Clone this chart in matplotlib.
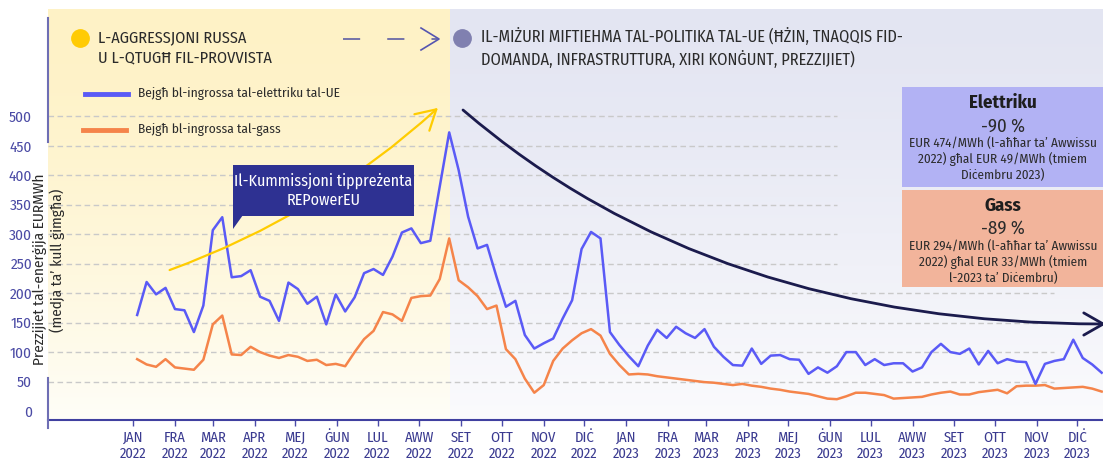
import matplotlib

matplotlib.use("Agg")
import matplotlib.pyplot as plt
import numpy as np
import pandas as pd
from matplotlib.lines import Line2D
from matplotlib.patches import Rectangle, Polygon, FancyArrowPatch
from matplotlib.path import Path

plt.rcParams["font.family"] = ["Fira Sans Condensed", "DejaVu Sans"]

W, H = 1103, 459

# weekly wholesale prices, EUR/MWh
ELEC = [163, 219, 198, 209, 173, 171, 134, 179, 307, 329, 227, 229, 239, 194, 187, 153,
        218, 207, 182, 194, 147, 198, 169, 193, 234, 241, 231, 262, 303, 310, 285, 289,
        381, 473, 409, 330, 276, 282, 228, 177, 187, 129, 106, 115, 123, 157, 188, 275,
        304, 293, 134, 112, 93, 76, 111, 138, 124, 143, 132, 124, 139, 109, 92, 78,
        77, 106, 80, 94, 95, 88, 87, 63, 74, 65, 76, 100, 100, 78, 88, 78,
        81, 81, 67, 74, 100, 114, 100, 97, 106, 79, 102, 81, 88, 84, 83, 46,
        80, 85, 88, 121, 90, 79, 65]
GAS = [88, 79, 75, 88, 74, 72, 70, 87, 147, 162, 96, 95, 109, 100, 94, 90,
       95, 92, 85, 87, 78, 80, 76, 100, 122, 136, 168, 164, 153, 192, 195, 196,
       224, 293, 222, 210, 195, 173, 179, 105, 88, 55, 31, 44, 85, 106, 120, 132,
       139, 128, 97, 78, 62, 63, 62, 59, 57, 55, 53, 51, 49, 48, 46, 44,
       46, 43, 41, 38, 36, 33, 31, 29, 25, 21, 20, 25, 31, 31, 29, 27,
       21, 22, 23, 24, 28, 31, 33, 28, 28, 32, 34, 36, 30, 42, 43, 43,
       44, 38, 39, 40, 41, 38, 33]
WEEKS = pd.date_range("2022-01-04", periods=len(ELEC), freq="7D")

MONTHS = ["JAN", "FRA", "MAR", "APR", "MEJ", "ĠUN", "LUL", "AWW", "SET", "OTT", "NOV", "DIĊ"]
YTICKS = [0, 50, 100, 150, 200, 250, 300, 350, 400, 450, 500]

LEG_ELEC = "Bejgħ bl-ingrossa tal-elettriku tal-UE"
LEG_GAS = "Bejgħ bl-ingrossa tal-gass"
PHASE1 = "L-AGGRESSJONI RUSSA\nU L-QTUGĦ FIL-PROVVISTA"
PHASE2 = "IL-MIŻURI MIFTIEHMA TAL-POLITIKA TAL-UE (ĦŻIN, TNAQQIS FID-\nDOMANDA, INFRASTRUTTURA, XIRI KONĠUNT, PREZZIJIET)"
CALLOUT = "Il-Kummissjoni tippreżenta\nREPowerEU"
BOX_E = ("Elettriku", "-90 %", "EUR 474/MWh (l-aħħar ta’ Awwissu\n2022) għal EUR 49/MWh (tmiem\nDiċembru 2023)")
BOX_G = ("Gass", "-89 %", "EUR 294/MWh (l-aħħar ta’ Awwissu\n2022) għal EUR 33/MWh (tmiem\nl-2023 ta’ Diċembru)")

BLUE, ORANGE = "#5A5AF6", "#F5844A"
TXT = "#2B2B2B"


def fx(x):
    return x / W


def fy(y):
    return 1 - y / H


def gradient(top, bottom, power=1.0, n=256):
    t = np.linspace(0, 1, n)[:, None, None] ** power
    top = np.array(top)[None, None, :] / 255
    bottom = np.array(bottom)[None, None, :] / 255
    return top * (1 - t) + bottom * t


fig = plt.figure(figsize=(W / 100, H / 100), dpi=100)
ax = fig.add_axes([fx(48), fy(420), fx(1055), 411 / H])

split = (450 - 48) / 1055
ax.imshow(gradient((254, 242, 198), (255, 254, 248), 1.6), extent=(0, split, 0, 1),
          transform=ax.transAxes, aspect="auto", zorder=0, interpolation="bilinear")
ax.imshow(gradient((227, 229, 242), (251, 251, 253), 1.3), extent=(split, 1, 0, 1),
          transform=ax.transAxes, aspect="auto", zorder=0, interpolation="bilinear")

for y in YTICKS[1:]:
    ax.axhline(y, xmin=0, xmax=0.748 if y >= 250 else 0.954, color="#C9C9C9",
               lw=1, ls=(0, (4, 2.5)), zorder=1)

ax.plot(WEEKS, GAS, color=ORANGE, lw=1.8, zorder=3)
ax.plot(WEEKS, ELEC, color=BLUE, lw=1.8, zorder=3)

ax.set_xlim(pd.Timestamp("2021-10-30"), pd.Timestamp("2023-12-20"))
ax.set_ylim(-15.3, 682.5)

ticks = pd.date_range("2022-01-01", periods=24, freq="MS")
ax.set_xticks(ticks)
ax.set_xticklabels([f"{MONTHS[d.month - 1]}\n{d.year}" for d in ticks])
ax.set_yticks(YTICKS)
ax.tick_params(axis="x", length=4.5, width=1, color="#4A4AA8", labelcolor="#3A3A90",
               labelsize=10.5, pad=3)
ax.tick_params(axis="y", length=0, labelcolor="#4B4BA5", labelsize=11, pad=11.5)
for s in ["top", "right", "left"]:
    ax.spines[s].set_visible(False)
ax.spines["bottom"].set_color("#4040A0")
ax.spines["bottom"].set_linewidth(1.5)

# broken left axis line
for y0, y1 in [(18, 142), (378, 428)]:
    fig.add_artist(Line2D([fx(48), fx(48)], [fy(y0), fy(y1)], color="#6E6EB4", lw=1.5))

fig.text(fx(40), fy(269), "Prezzijiet tal-enerġija EURMWh", rotation=90, ha="center",
         va="center", fontsize=11, color=TXT)
fig.text(fx(57), fy(260), "(medja ta’ kull ġimgħa)", rotation=90, ha="center",
         va="center", fontsize=11, color=TXT)

# header
fig.add_artist(Line2D([fx(80)], [fy(38)], marker="o", ms=12.5, color="#FFCB05", lw=0))
fig.text(fx(98), fy(48), PHASE1, ha="left", va="center", fontsize=11.7, color=TXT,
         linespacing=1.35)
fig.add_artist(Line2D([fx(343), fx(437)], [fy(39), fy(39)], color="#6A6AA6", lw=1.3,
                      dashes=(9.5, 15)))
fig.add_artist(Line2D([fx(421), fx(439), fx(421)], [fy(28), fy(39), fy(50)],
                      color="#5555B0", lw=1.2))
fig.add_artist(Line2D([fx(461.5)], [fy(38)], marker="o", ms=12.5, color="#8080B0", lw=0))
fig.text(fx(481), fy(48), PHASE2, ha="left", va="center", fontsize=11.8, color=TXT,
         linespacing=1.35)

# legend
fig.add_artist(Line2D([fx(85), fx(128)], [fy(94), fy(94)], color=BLUE, lw=3.5))
fig.text(fx(138), fy(94), LEG_ELEC, ha="left", va="center", fontsize=9.6, color=TXT)
fig.add_artist(Line2D([fx(83), fx(126)], [fy(130), fy(130)], color=ORANGE, lw=3.5))
fig.text(fx(138), fy(130), LEG_GAS, ha="left", va="center", fontsize=9.6, color=TXT)

# rising yellow arrow
fig.add_artist(FancyArrowPatch((fx(167), fy(271)), (fx(440), fy(106)),
                               transform=fig.transFigure, connectionstyle="arc3,rad=0.1",
                               arrowstyle="->,head_length=0.7,head_width=0.4",
                               mutation_scale=20, color="#FFCC00", lw=1.6))

# falling navy arrow
curve = Path([(fx(463), fy(110)), (fx(712), fy(324)), (fx(1106), fy(324))],
             [Path.MOVETO, Path.CURVE3, Path.CURVE3])
fig.add_artist(FancyArrowPatch(path=curve, transform=fig.transFigure,
                               arrowstyle="->,head_length=0.7,head_width=0.4",
                               mutation_scale=20, color="#1B1B4D", lw=2))

# REPowerEU callout
fig.add_artist(Rectangle((fx(233), fy(216)), fx(181), 51 / H, transform=fig.transFigure,
                         color="#2E3192", lw=0))
fig.add_artist(Polygon([(fx(233), fy(215)), (fx(243), fy(215)), (fx(233), fy(229))],
                       closed=True, transform=fig.transFigure, color="#2E3192", lw=0))
fig.text(fx(323.5), fy(190.5), CALLOUT, ha="center", va="center", fontsize=11.5,
         color="white", linespacing=1.3)

# summary boxes
for (title, pct, detail), top, bot, col in [(BOX_E, 87, 187, "#B2B2F4"),
                                             (BOX_G, 190, 287, "#F2B49B")]:
    fig.add_artist(Rectangle((fx(902), fy(bot)), fx(201), (bot - top) / H,
                             transform=fig.transFigure, color=col, lw=0))
    fig.text(fx(1003), fy(top + 16), title, ha="center", va="center", fontsize=13.5,
             fontweight="bold", color="#1E1E1E")
    fig.text(fx(1003), fy(top + 39), pct, ha="center", va="center", fontsize=13.5,
             color="#2B2B2B")
    fig.text(fx(1003), fy(top + 72), detail, ha="center", va="center", fontsize=9.5,
             color="#2B2B2B", linespacing=1.25)

fig.savefig("out.png", dpi=100)
